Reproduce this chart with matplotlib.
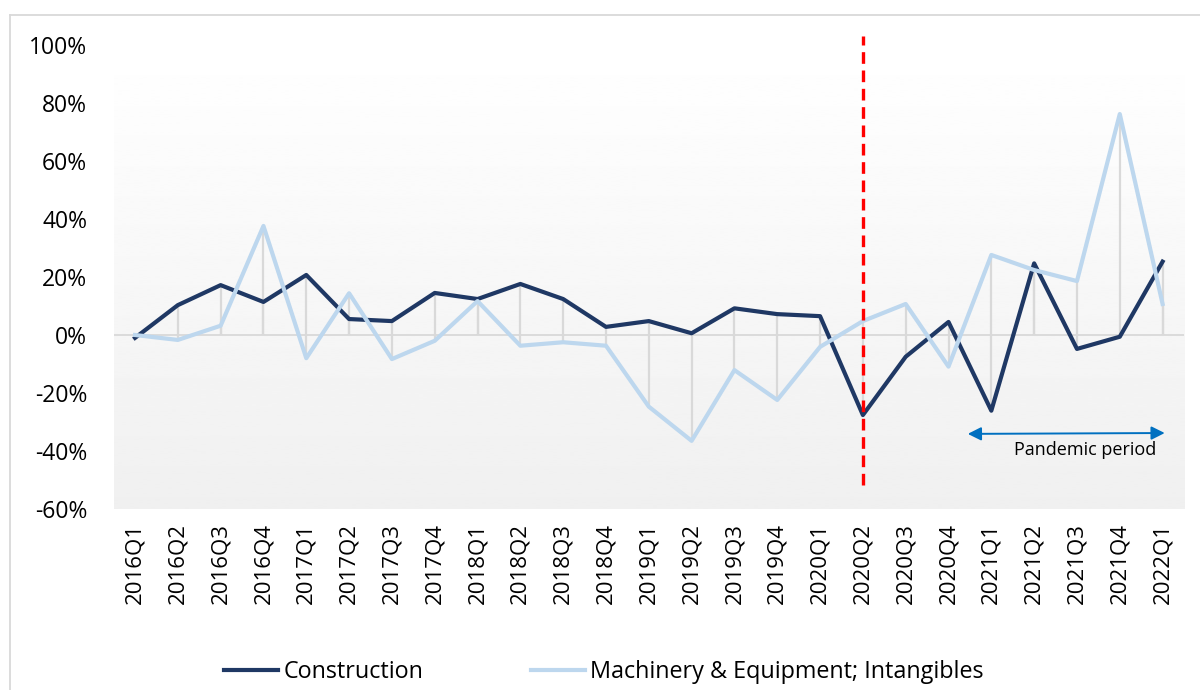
import numpy as np
import matplotlib.pyplot as plt
from matplotlib.lines import Line2D

plt.rcParams["font.family"] = ["Open Sans", "DejaVu Sans"]

quarters = ["2016Q1", "2016Q2", "2016Q3", "2016Q4", "2017Q1", "2017Q2", "2017Q3", "2017Q4",
            "2018Q1", "2018Q2", "2018Q3", "2018Q4", "2019Q1", "2019Q2", "2019Q3", "2019Q4",
            "2020Q1", "2020Q2", "2020Q3", "2020Q4", "2021Q1", "2021Q2", "2021Q3", "2021Q4",
            "2022Q1"]
construction = [-1.0, 10.3, 17.2, 11.4, 20.7, 5.5, 4.8, 14.5,
                12.4, 17.6, 12.4, 2.8, 4.8, 0.6, 9.2, 7.2,
                6.5, -27.6, -7.5, 4.5, -26.1, 24.7, -4.8, -0.6,
                25.3]
machinery = [0.0, -1.7, 3.2, 37.6, -8.0, 14.4, -8.3, -2.0,
             11.7, -3.7, -2.5, -3.7, -24.7, -36.5, -12.1, -22.4,
             -4.1, 4.8, 10.7, -10.9, 27.6, 22.4, 18.6, 76.2,
             10.7]
yticks = [-60, -40, -20, 0, 20, 40, 60, 80, 100]

dark = "#1f3864"
light = "#bdd7ee"
grey = "#d9d9d9"

x = np.arange(len(quarters))

fig = plt.figure(figsize=(12, 6.9), dpi=100)
ax = fig.add_axes([113.6 / 1200, (690 - 509) / 690, 1070.4 / 1200, 464 / 690])

# plot area gradient, white at top to light grey at bottom
grad = np.linspace(0.94, 1.0, 256).reshape(-1, 1)
ax.imshow(grad, extent=[-0.5, len(quarters) - 0.5, -60, 100], origin="lower",
          cmap="gray", vmin=0, vmax=1, aspect="auto", zorder=0, interpolation="bilinear")

ax.axhline(0, color=grey, lw=1.3, zorder=1)
ax.vlines(x, 0, construction, color=grey, lw=1.6, zorder=1)
ax.vlines(x, 0, machinery, color=grey, lw=1.6, zorder=1)

ax.plot(x, construction, color=dark, lw=3, label="Construction", zorder=3)
ax.plot(x, machinery, color=light, lw=3, label="Machinery & Equipment; Intangibles", zorder=3)

# start of pandemic marker
ax.plot([17, 17], [-51.7, 103], color="#ff0000", lw=2.4, ls=(0, (3.5, 2)), zorder=4, clip_on=False)

ax.annotate("", xy=(24.05, -33.8), xytext=(19.45, -34.1),
            arrowprops=dict(arrowstyle="<|-|>", color="#0070c0", lw=1.4, mutation_scale=20,
                            shrinkA=0, shrinkB=0), zorder=5)
ax.text(22.2, -39.8, "Pandemic period", ha="center", va="center", fontsize=13, color="#000000")

ax.set_xlim(-0.5, len(quarters) - 0.5)
ax.set_ylim(-60, 100)
ax.set_yticks(yticks)
ax.set_yticklabels([f"{v}%" for v in yticks])
ax.set_xticks(x)
ax.set_xticklabels(quarters, rotation=90)
ax.tick_params(axis="y", length=0, pad=19, labelsize=16.5)
ax.tick_params(axis="x", length=0, pad=10, labelsize=16)
for s in ax.spines.values():
    s.set_visible(False)

# chart frame
fig.add_artist(Line2D([10 / 1200, 10 / 1200], [0, 675 / 690], color=grey, lw=1.3))
fig.add_artist(Line2D([10 / 1200, 1], [675 / 690, 675 / 690], color=grey, lw=1.3))

fig.legend(loc="center", bbox_to_anchor=(604 / 1200, 18 / 690), ncol=2, frameon=False,
           fontsize=16.8, handlelength=2.3, handletextpad=0.25, columnspacing=4.6)

fig.savefig("out.png", dpi=100)
